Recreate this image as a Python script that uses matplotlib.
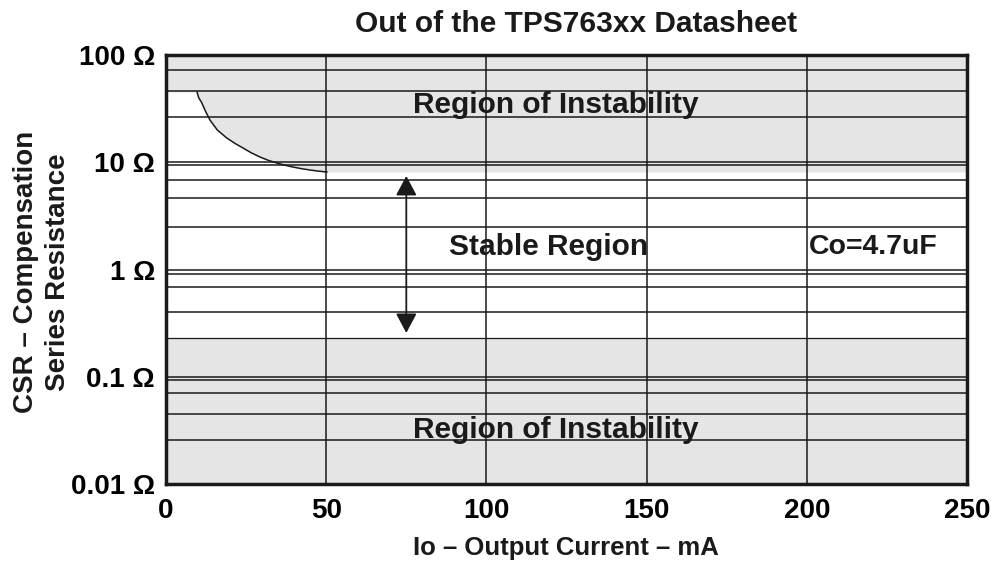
import matplotlib.pyplot as plt
from matplotlib.ticker import FixedLocator, FuncFormatter, NullFormatter

# boundary of the upper instability region (mA, ohm)
current_ma = [0, 9.7, 10.2, 11.2, 12.3, 13.7, 16.0, 19.0, 21.5, 24.0, 26.5,
              29.3, 32.0, 34.6, 37.0, 39.6, 42.2, 44.9, 47.5, 50.2, 250]
upper_ohm = [45.2, 45.2, 40.0, 35.7, 30.0, 24.8, 20.0, 16.8, 15.0, 13.6, 12.3,
             11.2, 10.4, 9.84, 9.4, 9.03, 8.72, 8.47, 8.27, 8.11, 8.11]

# lower instability limit
lower_ohm = 0.23

# stable region arrow (at 75 mA)
arrow_x = 75
arrow_top = 7.45
arrow_bottom = 0.256

x_ticks = [0, 50, 100, 150, 200, 250]
y_ticks = [0.01, 0.1, 1, 10, 100]
y_grid = [0.0257, 0.045, 0.0705, 0.093,
          0.40, 0.687, 0.91,
          2.49, 4.64, 6.83, 9.4,
          26.4, 46.2, 72.5]

GRAY = "#e5e5e5"
INK = "#1a1a1a"

plt.rcParams["font.family"] = ["Liberation Sans", "DejaVu Sans"]
plt.rcParams["font.weight"] = "bold"

fig = plt.figure(figsize=(9.96, 5.72), dpi=100)
ax = fig.add_axes([166 / 996, 1 - 484 / 572, 801 / 996, 429 / 572])

ax.set_yscale("log")
ax.set_xlim(0, 250)
ax.set_ylim(0.01, 100)

# shaded regions
ax.fill_between(current_ma, upper_ohm, 100, color=GRAY, lw=0, zorder=0.5)
ax.fill_between([0, 250], 0.01, lower_ohm, color=GRAY, lw=0, zorder=0.5)
ax.plot(current_ma[1:-1], upper_ohm[1:-1], color=INK, lw=1.1, zorder=2)
ax.plot([0, 250], [lower_ohm, lower_ohm], color=INK, lw=0.9, zorder=2)

# grid
ax.xaxis.set_major_locator(FixedLocator(x_ticks))
ax.yaxis.set_major_locator(FixedLocator(y_ticks))
ax.yaxis.set_minor_locator(FixedLocator(y_grid))
ax.yaxis.set_minor_formatter(NullFormatter())
ax.yaxis.set_major_formatter(FuncFormatter(lambda v, p: f"{v:g} \u03a9"))
ax.grid(True, which="major", color=INK, lw=1.1)
ax.grid(True, which="minor", axis="y", color=INK, lw=1.1)
ax.tick_params(which="both", length=0)
ax.tick_params(axis="y", pad=8, labelsize=20)
ax.tick_params(axis="x", pad=10, labelsize=20)
for s in ax.spines.values():
    s.set_linewidth(2.5)
    s.set_color(INK)

# arrow
ax.annotate("", xy=(arrow_x, arrow_top), xytext=(arrow_x, arrow_bottom),
            arrowprops=dict(arrowstyle="<|-|>,head_length=0.6,head_width=0.32",
                            color=INK, lw=1.3, shrinkA=0, shrinkB=0,
                            mutation_scale=20), zorder=3)

ax.text(121.6, 34.2, "Region of Instability", ha="center", va="center",
        fontsize=21.5, color=INK, zorder=4)
ax.text(121.6, 0.0318, "Region of Instability", ha="center", va="center",
        fontsize=21.5, color=INK, zorder=4)
ax.text(119.4, 1.62, "Stable Region", ha="center", va="center",
        fontsize=21.5, color=INK, zorder=4)
ax.text(220.6, 1.62, "Co=4.7uF", ha="center", va="center",
        fontsize=20.5, color=INK, zorder=4)

fig.text(576 / 996, 1 - 24 / 572, "Out of the TPS763xx Datasheet",
         ha="center", va="center", fontsize=21.5, color=INK)
fig.text(566 / 996, 1 - 548 / 572, "Io \u2013 Output Current \u2013 mA",
         ha="center", va="center", fontsize=18.5, color=INK)
fig.text(42 / 996, 1 - 272 / 572, "CSR \u2013 Compensation\nSeries Resistance",
         ha="center", va="center", rotation=90, fontsize=20,
         linespacing=1.3, color=INK)

fig.savefig("out.png", dpi=100, facecolor="white")
